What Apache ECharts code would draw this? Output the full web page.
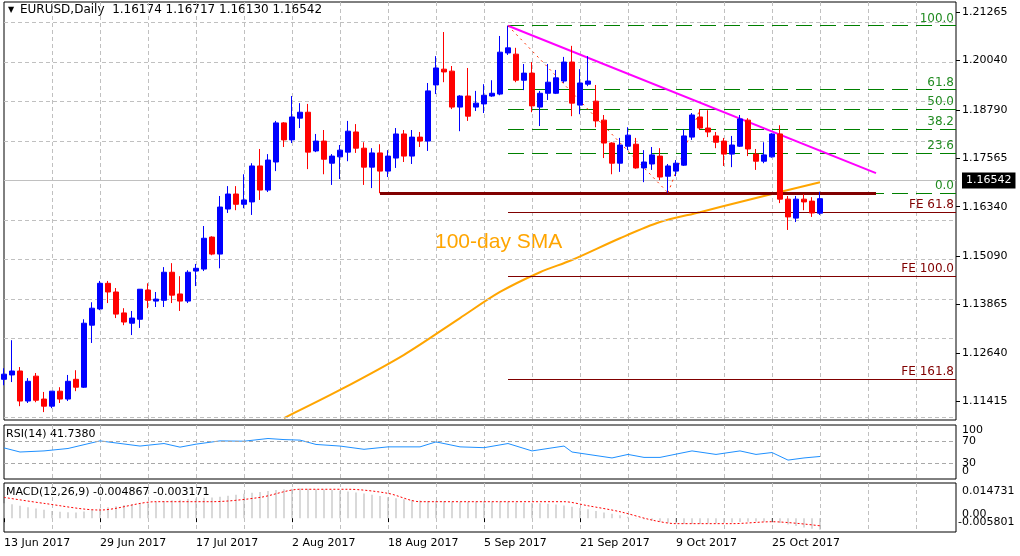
<!DOCTYPE html>
<html><head><meta charset="utf-8">
<script src="https://cdn.jsdelivr.net/npm/echarts@6/dist/echarts.min.js"></script>
<style>html,body{margin:0;padding:0;background:#fff}#c{width:1020px;height:556px}</style>
</head><body><div id="c"></div>
<script>
// ---- data ----
// [open, close, low, high]
const ohlc = [
[1.1197,1.1210,1.1182,1.1225],[1.1208,1.1218,1.1190,1.1296],[1.1218,1.1142,1.1129,1.1228],[1.1142,1.1192,1.1137,1.1200],
[1.1205,1.1144,1.1139,1.1213],[1.1147,1.1129,1.1114,1.1165],[1.1129,1.1167,1.1124,1.1167],[1.1167,1.1147,1.1137,1.1177],
[1.1147,1.1192,1.1142,1.1208],[1.1197,1.1177,1.1167,1.1220],[1.1177,1.1339,1.1175,1.1349],[1.1334,1.1377,1.1289,1.1392],
[1.1375,1.1440,1.1372,1.1446],[1.1440,1.1418,1.1390,1.1446],[1.1418,1.1362,1.1352,1.1428],[1.1365,1.1342,1.1334,1.1377],
[1.1339,1.1352,1.1309,1.1370],[1.1349,1.1425,1.1327,1.1425],[1.1423,1.1397,1.1377,1.1440],[1.1395,1.1400,1.1380,1.1418],
[1.1397,1.1468,1.1380,1.1481],[1.1468,1.1410,1.1390,1.1491],[1.1413,1.1395,1.1370,1.1458],[1.1395,1.1468,1.1390,1.1473],
[1.1471,1.1478,1.1433,1.1489],[1.1476,1.1554,1.1471,1.1585],[1.1557,1.1514,1.1511,1.1559],[1.1514,1.1633,1.1478,1.1661],
[1.1628,1.1666,1.1618,1.1686],[1.1666,1.1640,1.1625,1.1686],[1.1640,1.1651,1.1630,1.1716],[1.1646,1.1737,1.1613,1.1744],
[1.1737,1.1676,1.1651,1.1780],[1.1676,1.1752,1.1671,1.1767],[1.1747,1.1846,1.1724,1.1851],[1.1846,1.1803,1.1785,1.1848],
[1.1803,1.1861,1.1795,1.1914],[1.1858,1.1873,1.1833,1.1896],[1.1873,1.1772,1.1729,1.1894],[1.1775,1.1800,1.1772,1.1818],
[1.1800,1.1754,1.1716,1.1828],[1.1744,1.1762,1.1689,1.1767],[1.1760,1.1777,1.1704,1.1790],[1.1772,1.1825,1.1749,1.1851],
[1.1823,1.1782,1.1770,1.1843],[1.1782,1.1734,1.1689,1.1797],[1.1734,1.1770,1.1681,1.1782],[1.1770,1.1724,1.1668,1.1792],
[1.1724,1.1762,1.1709,1.1777],[1.1757,1.1818,1.1732,1.1833],[1.1818,1.1762,1.1747,1.1828],[1.1762,1.1810,1.1742,1.1828],
[1.1810,1.1800,1.1785,1.1823],[1.1800,1.1927,1.1775,1.1947],[1.1942,1.1985,1.1919,1.2015],[1.1982,1.1975,1.1949,1.2076],
[1.1977,1.1886,1.1881,1.1990],[1.1886,1.1914,1.1825,1.1916],[1.1914,1.1863,1.1851,1.1985],[1.1886,1.1896,1.1876,1.1927],
[1.1894,1.1916,1.1871,1.1944],[1.1914,1.1921,1.1912,1.1954],[1.1919,1.2025,1.1916,1.2066],[1.2023,1.2036,1.2018,1.2092],
[1.2020,1.1954,1.1949,1.2036],[1.1954,1.1972,1.1929,1.1995],[1.1972,1.1889,1.1873,1.2000],[1.1886,1.1921,1.1838,1.1927],
[1.1921,1.1949,1.1904,1.1995],[1.1921,1.1960,1.1919,1.1980],[1.1952,1.2000,1.1947,1.2013],[1.2000,1.1896,1.1863,1.2041],
[1.1891,1.1947,1.1868,1.1982],[1.1944,1.1952,1.1939,1.2015],[1.1901,1.1851,1.1835,1.1942],[1.1853,1.1795,1.1757,1.1866],
[1.1795,1.1744,1.1716,1.1797],[1.1744,1.1790,1.1722,1.1808],[1.1787,1.1815,1.1777,1.1835],[1.1792,1.1732,1.1730,1.1808],
[1.1732,1.1747,1.1696,1.1777],[1.1742,1.1765,1.1727,1.1785],[1.1762,1.1709,1.1701,1.1782],[1.1711,1.1737,1.1669,1.1742],
[1.1724,1.1744,1.1711,1.1752],[1.1739,1.1813,1.1737,1.1830],[1.1810,1.1866,1.1803,1.1871],[1.1861,1.1833,1.1828,1.1881],
[1.1833,1.1823,1.1810,1.1878],[1.1813,1.1797,1.1782,1.1823],[1.1800,1.1767,1.1737,1.1808],[1.1767,1.1790,1.1734,1.1813],
[1.1787,1.1856,1.1785,1.1866],[1.1853,1.1780,1.1762,1.1858],[1.1767,1.1749,1.1727,1.1780],[1.1749,1.1765,1.1744,1.1797],
[1.1760,1.1818,1.1758,1.1820],[1.1818,1.1653,1.1643,1.1840],[1.1653,1.1608,1.1575,1.1661],[1.1605,1.1653,1.1595,1.1661],
[1.1653,1.1646,1.1625,1.1666],[1.1648,1.1618,1.1608,1.1658],[1.16174,1.16542,1.16130,1.16717]
];
const smaIdx = [35,42,50,57,62,67,71,77,82,87,92,97,102];
const smaVal = [1.1099,1.1170,1.1259,1.1352,1.1418,1.1468,1.1499,1.1554,1.1595,1.1620,1.1646,1.1671,1.1696];
const rsiIdx = [0,2,5,8,12,17,20,22,24,27,30,33,35,37,39,42,45,48,52,54,57,60,63,66,70,71,76,78,80,82,86,89,92,94,96,98,100,102];
const rsiVal = [57.6,50,52,56.5,70.6,61,65.7,59,64.5,70.6,70,75,73,72,64,61,55,59.5,59.5,68.7,59.5,58,65.7,52,61,50,39,45.5,40,40,52,45.5,52,45.5,49,35,39,41.7];
const macdMain = [0.0062,0.0058,0.0052,0.0046,0.0040,0.0035,0.0030,0.0027,0.0025,0.0024,
0.0028,0.0034,0.0040,0.0046,0.0050,0.0055,0.0058,0.0063,0.0066,0.0068,
0.0072,0.0075,0.0077,0.0080,0.0082,0.0085,0.0087,0.0090,0.0094,0.0098,
0.0102,0.0106,0.0110,0.0114,0.0118,0.0121,0.0123,0.0124,0.0123,0.0121,
0.0120,0.0118,0.0115,0.0112,0.0108,0.0103,0.0098,0.0093,0.0088,0.0083,
0.0079,0.0076,0.0074,0.0072,0.0072,0.0071,0.0070,0.0069,0.0068,0.0069,
0.0070,0.0070,0.0069,0.0068,0.0066,0.0065,0.0064,0.0062,0.0060,0.0057,
0.0053,0.0048,0.0043,0.0037,0.0030,0.0024,0.0018,0.0012,0.0006,0.0001,
-0.0005,-0.0010,-0.0015,-0.0019,-0.0022,-0.0024,-0.0025,-0.0024,-0.0022,-0.0021,
-0.0020,-0.0018,-0.0016,-0.0015,-0.0014,-0.0015,-0.0016,-0.0020,-0.0027,-0.0033,
-0.0039,-0.0044,-0.0049];
const sigIdx = [0,5,12,19,26,32,37,43,48,52,58,70,73,77,81,84,91,96,102];
const sigVal = [0.0087,0.0062,0.0034,0.0069,0.0069,0.0087,0.0121,0.0121,0.0104,0.0069,0.0069,0.0069,0.0052,0.0027,-0.0008,-0.0023,-0.0023,-0.0015,-0.0032];
const priceTicks = [1.21265,1.20040,1.18790,1.17565,1.16340,1.15090,1.13865,1.12640,1.11415];
const rsiLevels = [30,70];
const fibLevels = [1.2092,1.1930,1.1881,1.1831,1.1769,1.1669];
const fibLabels = ['100.0','61.8','50.0','38.2','23.6','0.0'];
const feLevels = [1.1620,1.1458,1.1197];
const feLabels = ['FE 61.8','FE 100.0','FE 161.8'];
const trendLine = [[63,1.2092],[109,1.1719]];
const zigzag = [[63,1.2092],[83,1.1669],[87,1.1881]];
const supportLine = [[47,1.1668],[109,1.1668]];
const lastPrice = 1.16542;
const N = 120;
const lastLabelIdx = 96;

// categories: weekdays from 13 Jun 2017
const months=['Jan','Feb','Mar','Apr','May','Jun','Jul','Aug','Sep','Oct','Nov','Dec'];
const cats=[]; {let d=new Date(2017,5,13); while(cats.length<N){const w=d.getDay(); if(w!==0&&w!==6) cats.push(d.getDate()+' '+months[d.getMonth()]+' '+d.getFullYear()); d.setDate(d.getDate()+1);} }
function sparse(idx,val){const a=new Array(N).fill(null); idx.forEach((i,k)=>a[i]=val[k]); return a;}

const FONT='DejaVu Sans';
const grid=[{left:4,right:64,top:2,height:418},{left:4,right:64,top:425,height:54},{left:4,right:64,top:483,height:49}];
grid.forEach(g=>{g.show=true;g.borderColor='#000';g.borderWidth=1;g.backgroundColor='#fff';});
const vsplit={show:true,interval:(i)=>i%6===0&&i>0,lineStyle:{color:'#c0c0c0',type:[4,3]}};
const lblInt=(i)=>i%12===0&&i<=lastLabelIdx;
const xAxes=[0,1,2].map(k=>({type:'category',gridIndex:k,data:cats,boundaryGap:false,
  axisLine:{show:false},axisTick:{show:k===2,interval:lblInt,length:4,lineStyle:{color:'#000'}},
  axisLabel:{show:k===2,interval:lblInt,align:'left',color:'#000',fontFamily:FONT,fontSize:11,margin:6},
  splitLine:vsplit}));
const yAxes=[
 {type:'value',gridIndex:0,position:'right',min:1.1094,max:1.2152,splitLine:{show:false},axisLine:{show:false},
  axisTick:{show:true,customValues:priceTicks,length:4,inside:false,lineStyle:{color:'#000'}},
  axisLabel:{customValues:priceTicks,formatter:v=>v.toFixed(5),color:'#000',fontFamily:FONT,fontSize:11,margin:6}},
 {type:'value',gridIndex:1,position:'right',min:0,max:100,axisLine:{show:false},splitLine:{show:false},
  axisTick:{show:false},axisLabel:{customValues:rsiLevels,color:'#000',fontFamily:FONT,fontSize:11,margin:6}},
 {type:'value',gridIndex:2,position:'right',min:-0.005801,max:0.014731,splitLine:{show:false},axisLine:{show:false},
  axisTick:{show:false},axisLabel:{show:false}}
];
const noSym=['none','none'];
const ml=(data)=>({silent:true,symbol:noSym,animation:false,data});
const gridLines=priceTicks.map(v=>({yAxis:v,lineStyle:{color:'#c0c0c0',type:[4,3],width:1},label:{show:false}}));
gridLines.push({yAxis:lastPrice,lineStyle:{color:'#c0c0c0',type:'solid',width:1},
  label:{show:true,position:'end',distance:6,formatter:'1.16542',color:'#fff',backgroundColor:'#000',padding:[3,4,2,4],fontFamily:FONT,fontSize:11}});
const fibLines=fibLevels.map((v,i)=>[{coord:[63,v],lineStyle:{color:'#008000',type:[16,8],width:1},
  label:{show:true,position:'insideEndTop',formatter:fibLabels[i],color:'#228b22',fontFamily:FONT,fontSize:12,distance:[2,1]}},{coord:[N-1,v]}]);
const feLines=feLevels.map((v,i)=>[{coord:[63,v],lineStyle:{color:'#800000',type:'solid',width:1},
  label:{show:true,position:'insideEndTop',formatter:feLabels[i],color:'#800000',fontFamily:FONT,fontSize:12,distance:[2,1]}},{coord:[N-1,v]}]);
const rsiLines=rsiLevels.map(v=>[{coord:[0,v],lineStyle:{color:'#a8a8a8',type:[4,3],width:1},label:{show:false}},{coord:[N-1,v]}]);
const t=(l,tp,s,extra)=>Object.assign({type:'text',left:l,top:tp,style:Object.assign({text:s,fontFamily:FONT,fontSize:11,fill:'#000'},extra||{})});

const option={animation:false,
 grid, xAxis:xAxes, yAxis:yAxes,
 graphic:[
  t(8,6,'▼',{fontSize:8}),
  t(20,4,'EURUSD,Daily  1.16174 1.16717 1.16130 1.16542',{fontSize:12}),
  t(435,232,'100-day SMA',{fontFamily:'Liberation Sans',fontSize:21,fill:'#FFA500'}),
  t(6,429,'RSI(14) 41.7380'),
  t(6,487,'MACD(12,26,9) -0.004867 -0.003171'),
  t(962,425,'100'), t(962,466,'0'),
  t(962,486,'0.014731'), t(962,509,'0.00'), t(958,517,'-0.005801')
 ],
 series:[
  {type:'line',xAxisIndex:0,yAxisIndex:0,data:[],z:1,markLine:ml(gridLines)},
  {type:'line',xAxisIndex:0,yAxisIndex:0,data:[],z:2,markLine:ml(fibLines)},
  {type:'line',xAxisIndex:0,yAxisIndex:0,data:[],z:2,markLine:ml(feLines)},
  {type:'line',xAxisIndex:0,yAxisIndex:0,data:sparse(smaIdx,smaVal),connectNulls:true,smooth:0.3,symbol:'none',
   lineStyle:{color:'#FFA500',width:2},z:3},
  {type:'line',xAxisIndex:0,yAxisIndex:0,data:[],z:4,markLine:ml([
    [{coord:supportLine[0],lineStyle:{color:'#800000',width:3,type:'solid'},label:{show:false}},{coord:supportLine[1]}],
    [{coord:trendLine[0],lineStyle:{color:'#FF00FF',width:2,type:'solid'},label:{show:false}},{coord:trendLine[1]}],
    [{coord:zigzag[0],lineStyle:{color:'#FF3000',width:1,type:[2,4]},label:{show:false}},{coord:zigzag[1]}],
    [{coord:zigzag[1],lineStyle:{color:'#FF3000',width:1,type:[2,4]},label:{show:false}},{coord:zigzag[2]}]
  ])},
  {type:'candlestick',xAxisIndex:0,yAxisIndex:0,data:ohlc,barWidth:5,z:5,
   itemStyle:{color:'#0000FF',color0:'#FF0000',borderColor:'#0000FF',borderColor0:'#FF0000',borderWidth:1}},
  {type:'line',xAxisIndex:1,yAxisIndex:1,data:[],z:1,markLine:ml(rsiLines)},
  {type:'line',xAxisIndex:1,yAxisIndex:1,data:sparse(rsiIdx,rsiVal),connectNulls:true,symbol:'none',lineStyle:{color:'#1E90FF',width:1},z:3},
  {type:'bar',xAxisIndex:2,yAxisIndex:2,data:macdMain,barWidth:1,itemStyle:{color:'#b4b4b4'}},
  {type:'line',xAxisIndex:2,yAxisIndex:2,data:sparse(sigIdx,sigVal),connectNulls:true,smooth:0.3,symbol:'none',lineStyle:{color:'#FF0000',width:1,type:[2,2]}}
 ]};
echarts.init(document.getElementById('c')).setOption(option);
</script></body></html>
